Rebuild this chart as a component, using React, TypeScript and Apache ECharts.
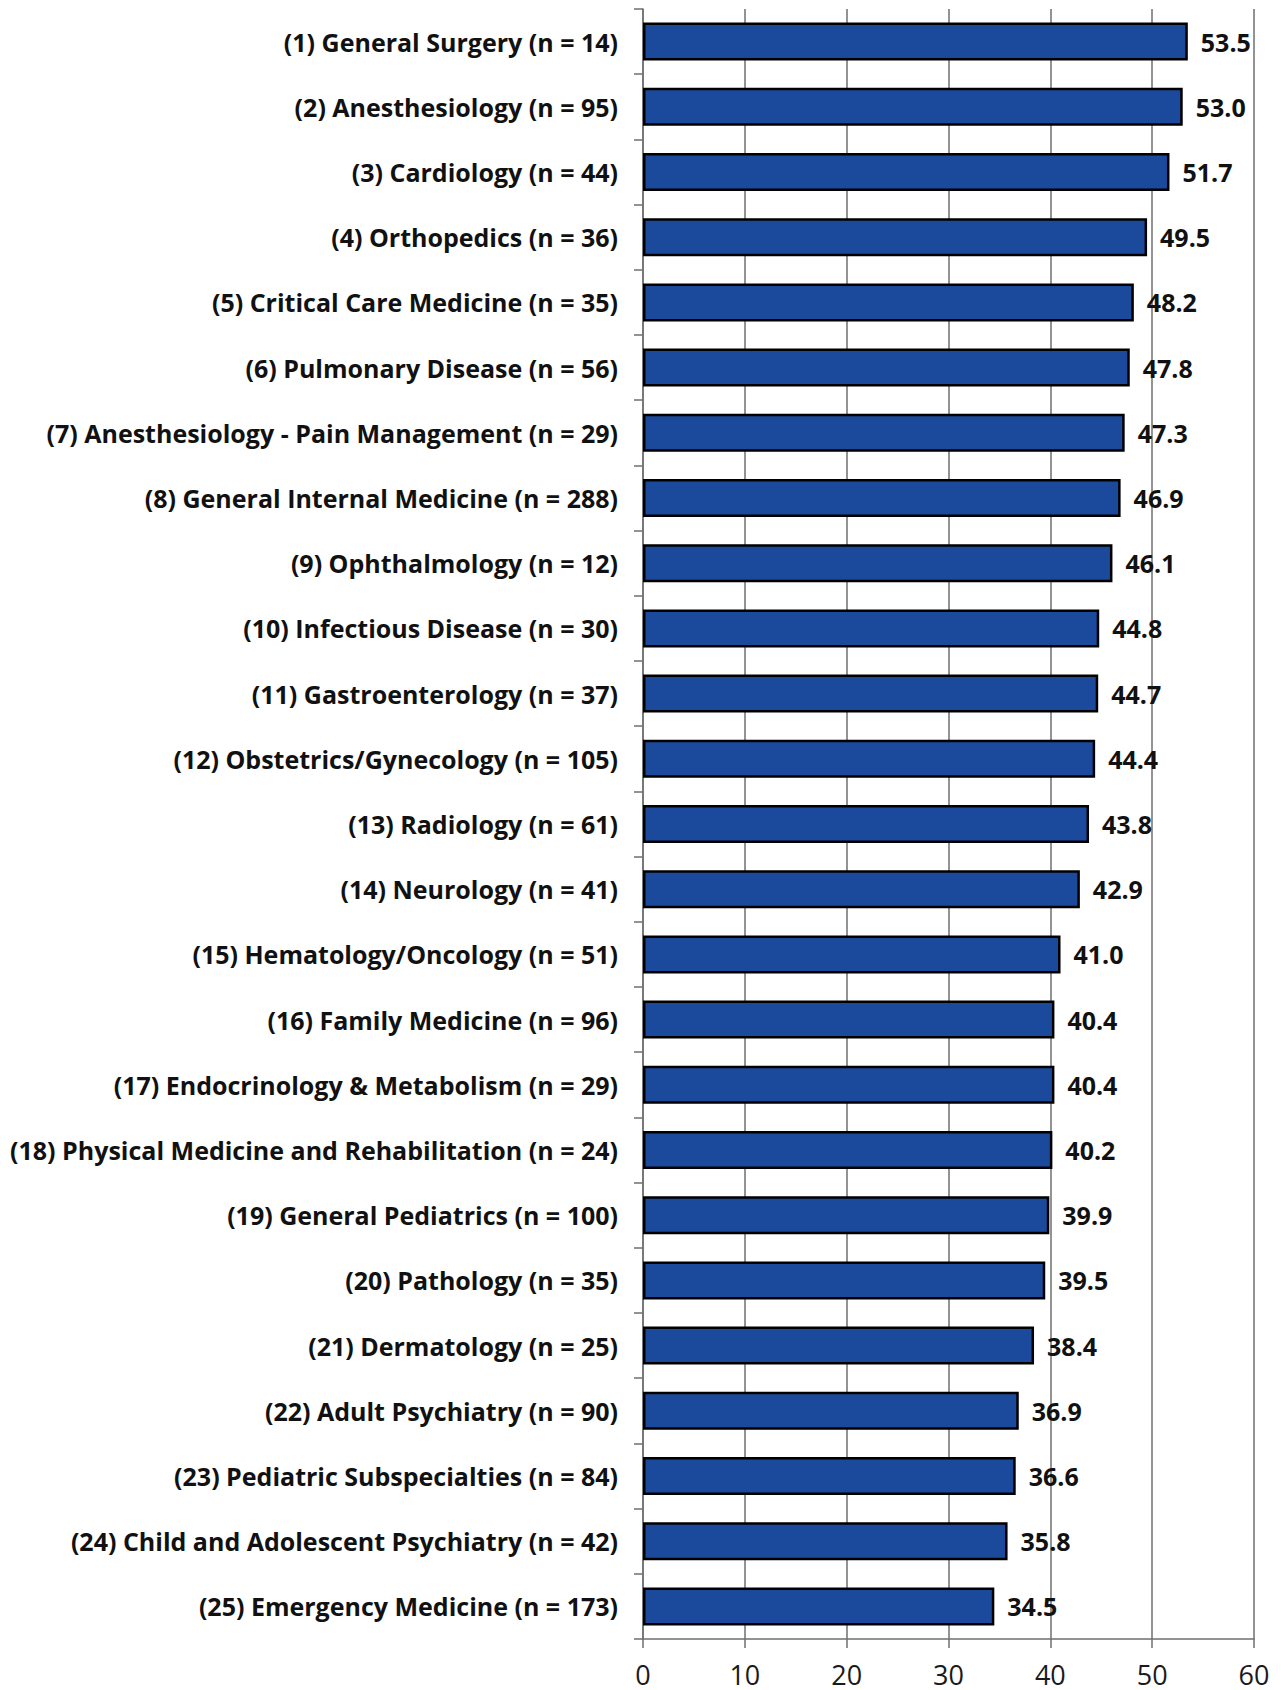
import React, { useEffect, useRef } from "react";
import * as echarts from "echarts";

const categories = [
  "(1) General Surgery (n = 14)",
  "(2) Anesthesiology (n = 95)",
  "(3) Cardiology (n = 44)",
  "(4) Orthopedics (n = 36)",
  "(5) Critical Care Medicine (n = 35)",
  "(6) Pulmonary Disease (n = 56)",
  "(7) Anesthesiology - Pain Management (n = 29)",
  "(8) General Internal Medicine (n = 288)",
  "(9) Ophthalmology (n = 12)",
  "(10) Infectious Disease (n = 30)",
  "(11) Gastroenterology (n = 37)",
  "(12) Obstetrics/Gynecology (n = 105)",
  "(13) Radiology (n = 61)",
  "(14) Neurology (n = 41)",
  "(15) Hematology/Oncology (n = 51)",
  "(16) Family Medicine (n = 96)",
  "(17) Endocrinology & Metabolism (n = 29)",
  "(18) Physical Medicine and Rehabilitation (n = 24)",
  "(19) General Pediatrics (n = 100)",
  "(20) Pathology (n = 35)",
  "(21) Dermatology (n = 25)",
  "(22) Adult Psychiatry (n = 90)",
  "(23) Pediatric Subspecialties (n = 84)",
  "(24) Child and Adolescent Psychiatry (n = 42)",
  "(25) Emergency Medicine (n = 173)",
];

const values = [
  53.5, 53.0, 51.7, 49.5, 48.2, 47.8, 47.3, 46.9, 46.1, 44.8, 44.7, 44.4, 43.8,
  42.9, 41.0, 40.4, 40.4, 40.2, 39.9, 39.5, 38.4, 36.9, 36.6, 35.8, 34.5,
];

const xMin = 0;
const xMax = 60;
const xInterval = 10;

export default function App() {
  const ref = useRef<HTMLDivElement>(null);
  useEffect(() => {
    document.body.style.margin = "0";
    const chart = echarts.init(ref.current!, null, { renderer: "svg" });
    const font = "'Open Sans', 'Noto Sans', sans-serif";
    chart.setOption({
      animation: false,
      backgroundColor: "#ffffff",
      grid: { left: 643, top: 9, width: 611, height: 1630, containLabel: false },
      xAxis: {
        type: "value",
        min: xMin,
        max: xMax,
        interval: xInterval,
        axisLine: { show: true, lineStyle: { color: "#6f6f6f", width: 1.5 } },
        axisTick: { show: true, length: 9, lineStyle: { color: "#6f6f6f", width: 1.5 } },
        splitLine: { show: true, lineStyle: { color: "#6f6f6f", width: 1.5 } },
        axisLabel: {
          fontFamily: font,
          fontSize: 27,
          color: "#1a1a1a",
          margin: 22,
        },
      },
      yAxis: {
        type: "category",
        data: categories,
        inverse: true,
        axisLine: { show: true, lineStyle: { color: "#6f6f6f", width: 1.5 } },
        axisTick: { show: true, length: 9, lineStyle: { color: "#6f6f6f", width: 1.5 } },
        axisLabel: {
          fontFamily: font,
          fontSize: 25,
          fontWeight: "bold",
          color: "#111",
          margin: 25,
        },
      },
      series: [
        {
          type: "bar",
          data: values,
          barWidth: 38,
          itemStyle: { color: "#1b4a9c", borderColor: "#000", borderWidth: 2.5 },
          label: {
            show: true,
            position: "right",
            distance: 13,
            formatter: (p: any) => p.value.toFixed(1),
            fontFamily: font,
            fontSize: 25,
            fontWeight: "bold",
            color: "#111",
          },
        },
      ],
    });
    return () => chart.dispose();
  }, []);
  return <div ref={ref} style={{ width: 1281, height: 1690 }} />;
}
